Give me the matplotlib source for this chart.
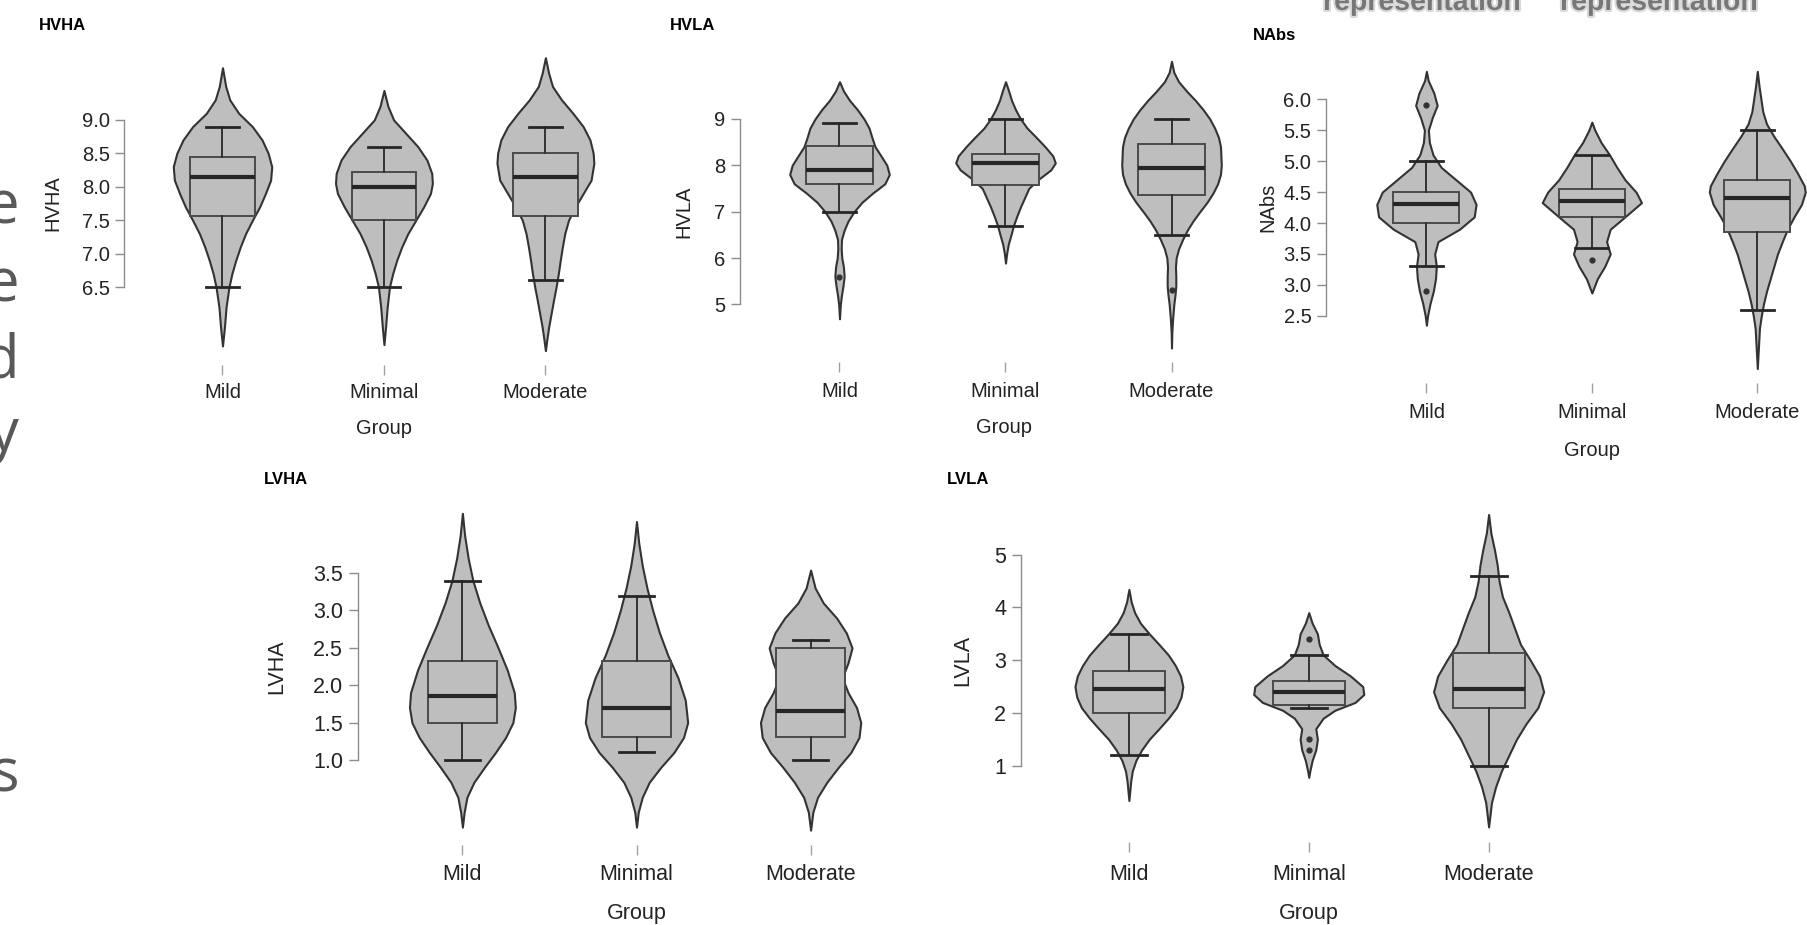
import matplotlib
matplotlib.use('Agg')
import matplotlib.pyplot as plt
import matplotlib.patheffects as pe

plt.rcParams['font.family'] = ['Liberation Sans', 'DejaVu Sans']

W, H = 1808, 925
groups = ['Mild', 'Minimal', 'Moderate']

# ---------------- HVHA ----------------
hvha_ticks = [6.5, 7.0, 7.5, 8.0, 8.5, 9.0]
hvha_ticklabels = ['6.5', '7.0', '7.5', '8.0', '8.5', '9.0']
hvha_q1 = [7.57, 7.5, 7.57]
hvha_med = [8.15, 8.0, 8.15]
hvha_q3 = [8.45, 8.22, 8.5]
hvha_lo = [6.5, 6.5, 6.6]
hvha_hi = [8.9, 8.6, 8.9]
hvha_out = [[], [], []]
hvha_mild_y = [9.78, 9.5, 9.3, 9.1, 8.9, 8.7, 8.5, 8.3, 8.1, 7.9, 7.7, 7.5, 7.3, 7.1, 6.9, 6.7, 6.5, 6.2, 5.9, 5.62]
hvha_mild_w = [0, 0.02, 0.045, 0.10, 0.185, 0.245, 0.283, 0.305, 0.298, 0.266, 0.23, 0.185, 0.143, 0.11, 0.082, 0.058, 0.04, 0.022, 0.012, 0]
hvha_minimal_y = [9.44, 9.2, 9.0, 8.8, 8.6, 8.4, 8.2, 8.05, 7.9, 7.7, 7.5, 7.3, 7.1, 6.9, 6.7, 6.5, 6.2, 5.9, 5.64]
hvha_minimal_w = [0, 0.025, 0.06, 0.135, 0.21, 0.266, 0.296, 0.30, 0.288, 0.246, 0.197, 0.148, 0.11, 0.079, 0.054, 0.034, 0.02, 0.01, 0]
hvha_moderate_y = [9.93, 9.7, 9.5, 9.3, 9.1, 8.9, 8.7, 8.5, 8.35, 8.1, 7.9, 7.7, 7.5, 7.3, 7.1, 6.9, 6.7, 6.5, 6.3, 6.1, 5.9, 5.7, 5.55]
hvha_moderate_w = [0, 0.02, 0.044, 0.10, 0.17, 0.234, 0.276, 0.296, 0.30, 0.283, 0.234, 0.185, 0.143, 0.12, 0.105, 0.092, 0.08, 0.066, 0.05, 0.035, 0.02, 0.008, 0]

# ---------------- HVLA ----------------
hvla_ticks = [5, 6, 7, 8, 9]
hvla_ticklabels = ['5', '6', '7', '8', '9']
hvla_q1 = [7.6, 7.57, 7.35]
hvla_med = [7.9, 8.05, 7.95]
hvla_q3 = [8.42, 8.25, 8.45]
hvla_lo = [7.0, 6.7, 6.5]
hvla_hi = [8.9, 9.0, 9.0]
hvla_out = [[5.6], [], [5.3]]
hvla_mild_y = [9.8, 9.6, 9.4, 9.2, 9.0, 8.8, 8.6, 8.4, 8.2, 8.0, 7.8, 7.6, 7.4, 7.2, 7.0, 6.8, 6.6, 6.4, 6.2, 6.0, 5.8, 5.6, 5.4, 5.2, 5.0, 4.69]
hvla_mild_w = [0, 0.024, 0.06, 0.107, 0.147, 0.178, 0.195, 0.214, 0.25, 0.285, 0.30, 0.273, 0.2, 0.135, 0.088, 0.052, 0.028, 0.012, 0.01, 0.014, 0.024, 0.028, 0.021, 0.012, 0.005, 0]
hvla_minimal_y = [9.8, 9.6, 9.4, 9.2, 9.0, 8.8, 8.6, 8.4, 8.2, 8.05, 7.9, 7.7, 7.5, 7.3, 7.1, 6.9, 6.7, 6.5, 6.3, 6.1, 5.89]
hvla_minimal_w = [0, 0.019, 0.036, 0.06, 0.09, 0.13, 0.185, 0.238, 0.285, 0.30, 0.273, 0.2, 0.14, 0.115, 0.09, 0.068, 0.048, 0.033, 0.017, 0.007, 0]
hvla_moderate_y = [10.24, 10.0, 9.8, 9.6, 9.4, 9.2, 9.0, 8.8, 8.6, 8.4, 8.0, 7.8, 7.6, 7.4, 7.2, 7.0, 6.8, 6.6, 6.4, 6.2, 6.0, 5.8, 5.6, 5.4, 5.2, 5.0, 4.7, 4.4, 4.06]
hvla_moderate_w = [0, 0.014, 0.043, 0.09, 0.143, 0.19, 0.23, 0.26, 0.283, 0.295, 0.30, 0.295, 0.278, 0.25, 0.214, 0.171, 0.13, 0.095, 0.067, 0.043, 0.028, 0.024, 0.026, 0.026, 0.021, 0.014, 0.007, 0.002, 0]

# ---------------- NAbs ----------------
nabs_ticks = [2.5, 3.0, 3.5, 4.0, 4.5, 5.0, 5.5, 6.0]
nabs_ticklabels = ['2.5', '3.0', '3.5', '4.0', '4.5', '5.0', '5.5', '6.0']
nabs_q1 = [4.0, 4.1, 3.85]
nabs_med = [4.3, 4.35, 4.4]
nabs_q3 = [4.5, 4.55, 4.7]
nabs_lo = [3.3, 3.6, 2.6]
nabs_hi = [5.0, 5.1, 5.5]
nabs_out = [[5.9, 2.9], [3.4], []]
nabs_mild_y = [6.45, 6.3, 6.1, 5.9, 5.7, 5.5, 5.3, 5.1, 4.9, 4.7, 4.5, 4.3, 4.1, 3.9, 3.7, 3.5, 3.3, 3.1, 2.9, 2.7, 2.5, 2.35]
nabs_mild_w = [0, 0.011, 0.045, 0.065, 0.035, 0.012, 0.018, 0.04, 0.089, 0.178, 0.267, 0.30, 0.289, 0.2, 0.07, 0.05, 0.06, 0.055, 0.042, 0.022, 0.007, 0]
nabs_minimal_y = [5.63, 5.5, 5.3, 5.1, 4.9, 4.7, 4.5, 4.33, 4.1, 3.9, 3.7, 3.5, 3.3, 3.1, 2.87]
nabs_minimal_w = [0, 0.018, 0.056, 0.107, 0.151, 0.2, 0.267, 0.30, 0.2, 0.111, 0.089, 0.111, 0.078, 0.033, 0]
nabs_moderate_y = [6.45, 6.2, 6.0, 5.8, 5.6, 5.4, 5.2, 5.0, 4.8, 4.6, 4.5, 4.3, 4.1, 3.9, 3.7, 3.5, 3.3, 3.1, 2.9, 2.7, 2.5, 2.3, 2.0, 1.65]
nabs_moderate_w = [0, 0.011, 0.022, 0.033, 0.056, 0.1, 0.151, 0.2, 0.244, 0.284, 0.29, 0.267, 0.222, 0.182, 0.151, 0.122, 0.1, 0.078, 0.056, 0.038, 0.024, 0.013, 0.007, 0]

# ---------------- LVHA ----------------
lvha_ticks = [1.0, 1.5, 2.0, 2.5, 3.0, 3.5]
lvha_ticklabels = ['1.0', '1.5', '2.0', '2.5', '3.0', '3.5']
lvha_q1 = [1.5, 1.3, 1.3]
lvha_med = [1.85, 1.7, 1.65]
lvha_q3 = [2.33, 2.33, 2.5]
lvha_lo = [1.0, 1.1, 1.0]
lvha_hi = [3.4, 3.2, 2.6]
lvha_out = [[], [], []]
lvha_mild_y = [4.3, 4.0, 3.7, 3.4, 3.1, 2.8, 2.5, 2.2, 1.9, 1.7, 1.5, 1.3, 1.1, 0.9, 0.7, 0.5, 0.3, 0.1]
lvha_mild_w = [0, 0.013, 0.033, 0.06, 0.1, 0.149, 0.205, 0.258, 0.298, 0.304, 0.29, 0.248, 0.19, 0.126, 0.066, 0.026, 0.01, 0]
lvha_minimal_y = [4.19, 3.9, 3.6, 3.3, 3.0, 2.7, 2.4, 2.1, 1.8, 1.5, 1.3, 1.1, 0.9, 0.7, 0.5, 0.3, 0.1]
lvha_minimal_w = [0, 0.013, 0.033, 0.06, 0.093, 0.132, 0.18, 0.238, 0.28, 0.294, 0.27, 0.215, 0.139, 0.073, 0.033, 0.01, 0]
lvha_moderate_y = [3.54, 3.3, 3.1, 2.9, 2.7, 2.5, 2.3, 2.1, 1.9, 1.7, 1.5, 1.3, 1.1, 0.9, 0.7, 0.5, 0.3, 0.06]
lvha_moderate_w = [0, 0.026, 0.073, 0.149, 0.205, 0.238, 0.215, 0.182, 0.215, 0.264, 0.288, 0.278, 0.231, 0.159, 0.093, 0.04, 0.013, 0]

# ---------------- LVLA ----------------
lvla_ticks = [1, 2, 3, 4, 5]
lvla_ticklabels = ['1', '2', '3', '4', '5']
lvla_q1 = [2.0, 2.15, 2.1]
lvla_med = [2.45, 2.4, 2.45]
lvla_q3 = [2.8, 2.6, 3.13]
lvla_lo = [1.2, 2.1, 1.0]
lvla_hi = [3.5, 3.1, 4.6]
lvla_out = [[], [3.4, 1.5, 1.3], []]
lvla_mild_y = [4.34, 4.1, 3.9, 3.7, 3.5, 3.3, 3.1, 2.9, 2.7, 2.5, 2.3, 2.1, 1.9, 1.7, 1.5, 1.3, 1.1, 0.9, 0.7, 0.34]
lvla_mild_w = [0, 0.013, 0.032, 0.064, 0.113, 0.167, 0.219, 0.258, 0.287, 0.30, 0.29, 0.264, 0.219, 0.167, 0.113, 0.071, 0.039, 0.019, 0.01, 0]
lvla_minimal_y = [3.9, 3.7, 3.5, 3.3, 3.1, 2.9, 2.7, 2.5, 2.35, 2.2, 2.05, 1.9, 1.7, 1.5, 1.3, 1.1, 0.9, 0.78]
lvla_minimal_w = [0, 0.019, 0.048, 0.058, 0.08, 0.145, 0.232, 0.30, 0.306, 0.258, 0.145, 0.08, 0.039, 0.048, 0.039, 0.019, 0.006, 0]
lvla_moderate_y = [5.76, 5.4, 5.1, 4.8, 4.5, 4.2, 3.9, 3.6, 3.3, 3.0, 2.7, 2.4, 2.1, 1.8, 1.5, 1.2, 0.9, 0.6, 0.3, -0.16]
lvla_moderate_w = [0, 0.013, 0.032, 0.048, 0.058, 0.077, 0.113, 0.145, 0.177, 0.232, 0.283, 0.306, 0.274, 0.209, 0.155, 0.113, 0.071, 0.039, 0.016, 0]

FILL = '#bebebe'
EDGE = '#333333'


def panel(title, ylabel, ticks, ticklabels, q1, med, q3, lo, hi, out, prof_y, prof_w, lay, fs):
    # layout given in pixels of the 1808x925 canvas
    cx = lay['cats']
    sp = (cx[2] - cx[0]) / 2
    py_hi, py_lo = lay['py_hi'], lay['py_lo']
    ppu = (py_lo - py_hi) / (ticks[-1] - ticks[0])
    left = lay['axis_x']
    right = cx[2] + 0.6 * sp
    top, bot = lay['top'], lay['bot']

    ax = fig.add_axes([left / W, 1 - bot / H, (right - left) / W, (bot - top) / H])
    ax.set_xlim((left - cx[0]) / sp, (right - cx[0]) / sp)
    ax.set_ylim(ticks[0] - (bot - py_lo) / ppu, ticks[-1] + (py_hi - top) / ppu)
    ax.patch.set_alpha(0)

    vpstats = []
    for y, w in zip(prof_y, prof_w):
        vpstats.append({'coords': y, 'vals': w, 'mean': 0, 'median': 0,
                        'min': min(y), 'max': max(y)})
    parts = ax.violin(vpstats, positions=[0, 1, 2],
                      widths=[2 * max(w) for w in prof_w],
                      showmeans=False, showextrema=False, showmedians=False)
    for b in parts['bodies']:
        b.set_facecolor(FILL)
        b.set_edgecolor(EDGE)
        b.set_linewidth(1.5)
        b.set_alpha(1)

    stats = []
    for i in range(3):
        stats.append({'q1': q1[i], 'med': med[i], 'q3': q3[i],
                      'whislo': lo[i], 'whishi': hi[i], 'fliers': out[i]})
    ax.bxp(stats, positions=[0, 1, 2], widths=0.4, capwidths=0.2,
           patch_artist=True, showfliers=True, manage_ticks=False,
           boxprops=dict(facecolor=FILL, edgecolor='#4a4a4a', linewidth=1.4),
           medianprops=dict(color='#262626', linewidth=3),
           whiskerprops=dict(color=EDGE, linewidth=1.4),
           capprops=dict(color='#262626', linewidth=2),
           flierprops=dict(marker='o', markersize=3.5, markerfacecolor='#333333',
                           markeredgecolor='#333333', linestyle='none'))

    for s in ['top', 'right', 'bottom']:
        ax.spines[s].set_visible(False)
    ax.spines['left'].set_bounds(ticks[0], ticks[-1])
    ax.spines['left'].set_color('#8c8c8c')
    ax.spines['left'].set_linewidth(1)

    ax.set_yticks(ticks, ticklabels)
    ax.set_xticks([0, 1, 2], groups)
    ax.tick_params(axis='y', length=6.5, width=1, color='#8c8c8c', pad=4,
                   labelsize=fs, labelcolor='#222222')
    ax.tick_params(axis='x', length=7.2, width=1, color='#a0a0a0', pad=lay['xpad'],
                   labelsize=fs, labelcolor='#222222')

    fig.text(lay['ylab_x'] / W, 1 - (py_hi + py_lo) / 2 / H, ylabel, rotation=90,
             ha='center', va='center', fontsize=fs, color='#222222')
    fig.text(cx[1] / W, 1 - lay['grp_y'] / H, 'Group', ha='center', va='center',
             fontsize=fs, color='#222222')
    fig.text(lay['title'][0] / W, 1 - lay['title'][1] / H, title, ha='left', va='center',
             fontsize=12, fontweight='bold', color='black')
    return ax


fig = plt.figure(figsize=(W / 100, H / 100), dpi=100)
fig.patch.set_facecolor('white')

panel('HVHA', 'HVHA', hvha_ticks, hvha_ticklabels, hvha_q1, hvha_med, hvha_q3, hvha_lo, hvha_hi, hvha_out,
      [hvha_mild_y, hvha_minimal_y, hvha_moderate_y], [hvha_mild_w, hvha_minimal_w, hvha_moderate_w],
      dict(cats=[222.5, 384.0, 545.4], axis_x=124.4, py_hi=119.9, py_lo=287.1, top=45, bot=364.8,
           ylab_x=53, grp_y=429, title=(39, 25), xpad=6), 14.5)

panel('HVLA', 'HVLA', hvla_ticks, hvla_ticklabels, hvla_q1, hvla_med, hvla_q3, hvla_lo, hvla_hi, hvla_out,
      [hvla_mild_y, hvla_minimal_y, hvla_moderate_y], [hvla_mild_w, hvla_minimal_w, hvla_moderate_w],
      dict(cats=[839.5, 1004.3, 1171.5], axis_x=739.7, py_hi=118.8, py_lo=304.4, top=45, bot=361.9,
           ylab_x=684, grp_y=428, title=(670, 25), xpad=7.5), 14.5)

panel('NAbs', 'NAbs', nabs_ticks, nabs_ticklabels, nabs_q1, nabs_med, nabs_q3, nabs_lo, nabs_hi, nabs_out,
      [nabs_mild_y, nabs_minimal_y, nabs_moderate_y], [nabs_mild_w, nabs_minimal_w, nabs_moderate_w],
      dict(cats=[1426.4, 1592.4, 1757.3], axis_x=1326, py_hi=99.2, py_lo=315.9, top=55, bot=383.3,
           ylab_x=1268, grp_y=450.6, title=(1253, 36), xpad=7), 14.5)

panel('LVHA', 'LVHA', lvha_ticks, lvha_ticklabels, lvha_q1, lvha_med, lvha_q3, lvha_lo, lvha_hi, lvha_out,
      [lvha_mild_y, lvha_minimal_y, lvha_moderate_y], [lvha_mild_w, lvha_minimal_w, lvha_moderate_w],
      dict(cats=[462.4, 636.5, 810.6], axis_x=357.7, py_hi=573.1, py_lo=759.9, top=490, bot=845,
           ylab_x=277, grp_y=913, title=(264, 480), xpad=6.5), 15.5)

panel('LVLA', 'LVLA', lvla_ticks, lvla_ticklabels, lvla_q1, lvla_med, lvla_q3, lvla_lo, lvla_hi, lvla_out,
      [lvla_mild_y, lvla_minimal_y, lvla_moderate_y], [lvla_mild_w, lvla_minimal_w, lvla_moderate_w],
      dict(cats=[1128.9, 1308.8, 1488.6], axis_x=1020.6, py_hi=554.6, py_lo=765.7, top=490, bot=842,
           ylab_x=963, grp_y=913, title=(947, 480), xpad=8.5), 15.5)

# cropped slide text at the left edge
for ch, base in [('e', 223), ('e', 302), ('d', 377), ('y', 451), ('s', 792)]:
    fig.text(19 / W, 1 - base / H, ch, ha='right', va='baseline', fontsize=43,
             color='#595959', family=['Open Sans', 'DejaVu Sans'])

# cropped, blurred header text at the top right
for x0 in [1323, 1560]:
    fig.text(x0 / W, 1 - 10 / H, 'representation', ha='left', va='baseline', fontsize=20.5,
             fontweight='bold', color='#777777',
             path_effects=[pe.withStroke(linewidth=3, foreground='#dadada')])

fig.savefig('out.png', dpi=100, facecolor='white')
